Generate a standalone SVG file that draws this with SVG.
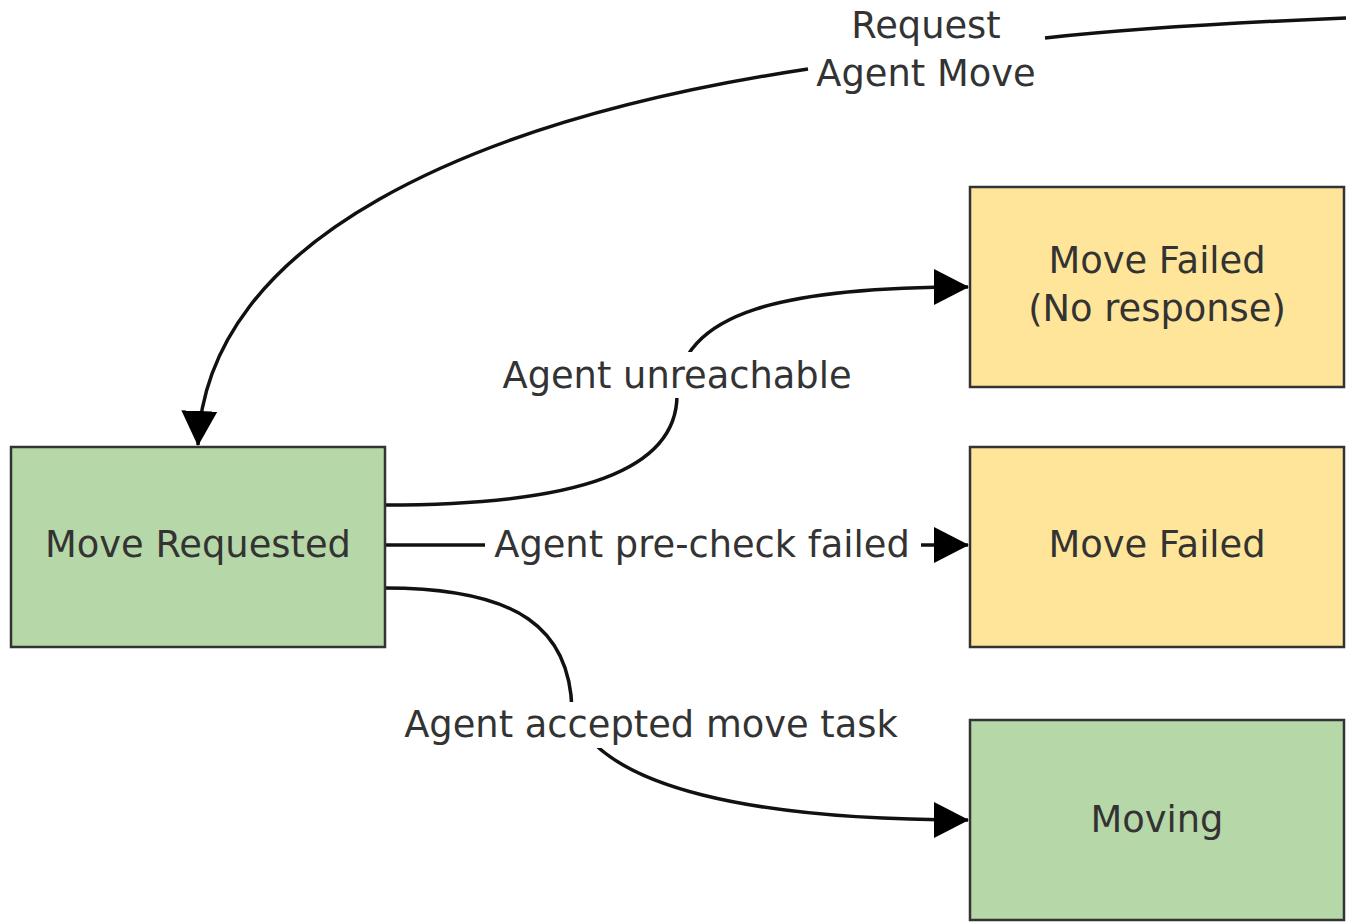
<svg xmlns="http://www.w3.org/2000/svg" width="1346" height="923" viewBox="0 0 1346 923">
<defs>
<style>
.node{stroke:#333;stroke-width:2.5}
.green{fill:#b6d7a8}
.yellow{fill:#ffe599}
.t{font-family:"DejaVu Sans",Verdana,sans-serif;font-size:36.8px;fill:#333;text-anchor:middle}
.edge{fill:none;stroke:#111;stroke-width:3.5}
.lbg{fill:#fff}
</style>
<marker id="arr" markerUnits="userSpaceOnUse" markerWidth="36" markerHeight="38" refX="34" refY="18" orient="auto" viewBox="0 0 36 36">
<path d="M0,0 L35,18 L0,36 Z" fill="#000"/>
</marker>
</defs>
<rect width="1346" height="923" fill="#fff"/>
<g id="connectors">
<path class="edge" d="M1346,18 C1200,24 1100,32 1045,38"/>
<path class="edge" d="M808,69 C470,120 206,240 198,445" marker-end="url(#arr)"/>
<path class="edge" d="M385,505 C580,505 677,470 677,395 C677,310 790,287 968,287" marker-end="url(#arr)"/>
<path class="edge" d="M385,545 L968,545" marker-end="url(#arr)"/>
<path class="edge" d="M385,588 C520,588 570,630 572,710 C600,790 760,820 968,820" marker-end="url(#arr)"/>
<rect class="lbg" x="815" y="4" width="222" height="94"/>
<rect class="lbg" x="500" y="352" width="354" height="46"/>
<rect class="lbg" x="485" y="522" width="436" height="46"/>
<rect class="lbg" x="400" y="702" width="502" height="46"/>
<text class="t" x="926" y="38">Request</text>
<text class="t" x="926" y="86">Agent Move</text>
<text class="t" x="677" y="388">Agent unreachable</text>
<text class="t" x="702" y="557">Agent pre-check failed</text>
<text class="t" x="651" y="737">Agent accepted move task</text>
</g>
<g id="move-requested">
<rect class="node green" x="11" y="447" width="374" height="200"/>
<text class="t" x="198" y="557">Move Requested</text>
</g>
<g id="move-failed-no-response">
<rect class="node yellow" x="970" y="187" width="374" height="200"/>
<text class="t" x="1157" y="273">Move Failed</text>
<text class="t" x="1157" y="321">(No response)</text>
</g>
<g id="move-failed">
<rect class="node yellow" x="970" y="447" width="374" height="200"/>
<text class="t" x="1157" y="557">Move Failed</text>
</g>
<g id="moving">
<rect class="node green" x="970" y="720" width="374" height="200"/>
<text class="t" x="1157" y="832">Moving</text>
</g>
</svg>
